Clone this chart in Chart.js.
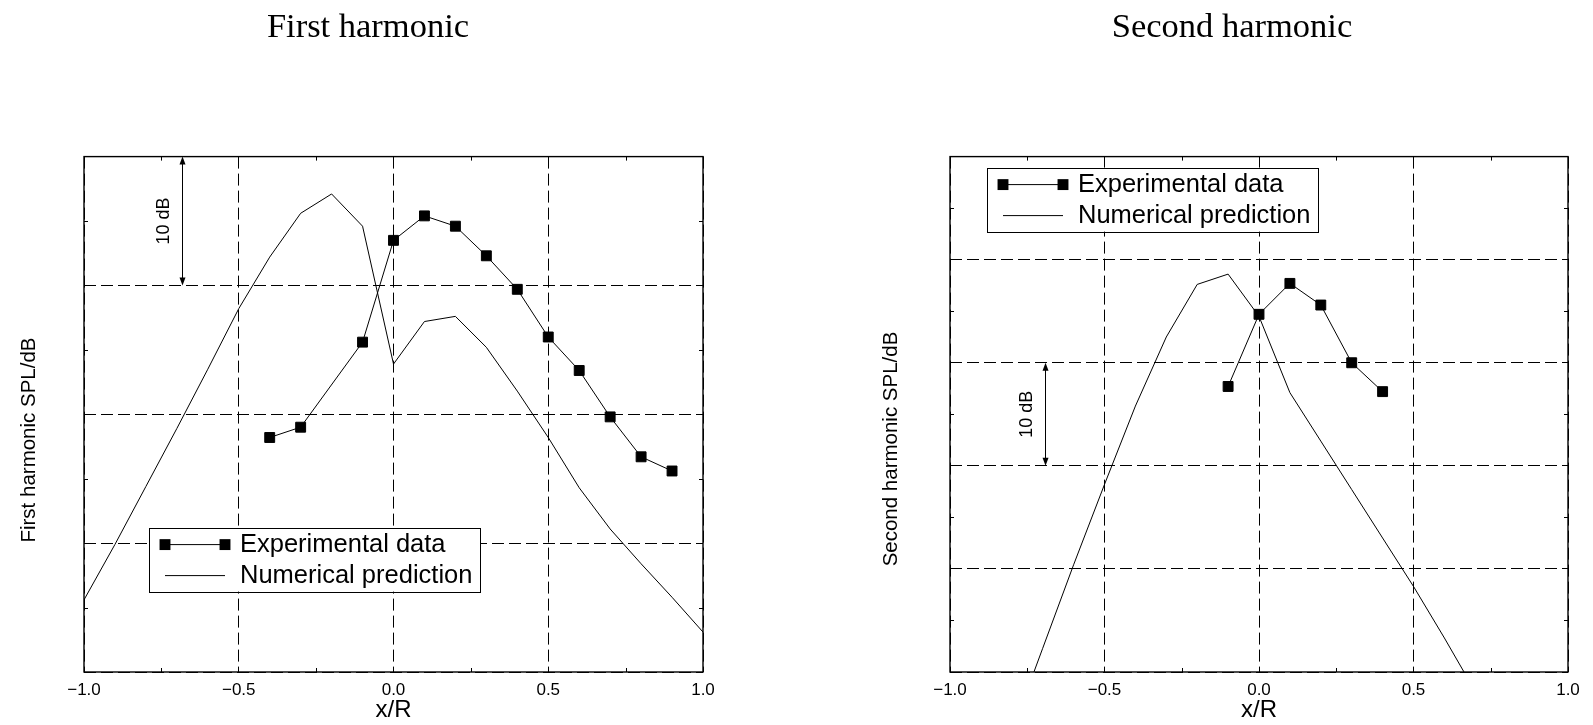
<!DOCTYPE html>
<html><head><meta charset="utf-8">
<script src="https://cdn.jsdelivr.net/npm/chart.js@4.4.1/dist/chart.umd.min.js"></script>
<style>
html,body{margin:0;padding:0;background:#fff;width:1593px;height:725px;overflow:hidden;}
.box{position:absolute;top:0;height:725px;}
#w1{left:0;width:736px;}
#w2{left:860px;width:733px;}
canvas{display:block;}
</style></head><body>
<div id="w1" class="box"><canvas id="c1" width="736" height="725"></canvas></div>
<div id="w2" class="box"><canvas id="c2" width="733" height="725"></canvas></div>
<script>
// ---------- data (first harmonic) ----------
const expX1 = [-0.4, -0.3, -0.1, 0.0, 0.1, 0.2, 0.3, 0.4, 0.5, 0.6, 0.7, 0.8, 0.9];
const expY1 = [18.2, 19.0, 25.6, 33.5, 35.4, 34.6, 32.3, 29.7, 26.0, 23.4, 19.8, 16.7, 15.6];
const numX1 = [-1.0, -0.9, -0.8, -0.7, -0.6, -0.5, -0.4, -0.3, -0.2, -0.1, 0.0, 0.1, 0.2, 0.3, 0.4, 0.5, 0.6, 0.7, 0.8, 0.9, 1.0];
const numY1 = [5.6, 9.9, 14.4, 18.9, 23.5, 28.2, 32.2, 35.6, 37.1, 34.6, 23.9, 27.2, 27.6, 25.2, 21.8, 18.2, 14.3, 11.1, 8.4, 5.8, 3.1];
// ---------- data (second harmonic) ----------
const expX2 = [-0.1, 0.0, 0.1, 0.2, 0.3, 0.4];
const expY2 = [27.7, 34.7, 37.7, 35.6, 30.0, 27.2];
const numX2 = [-0.8, -0.7, -0.6, -0.5, -0.4, -0.3, -0.2, -0.1, 0.0, 0.1, 0.2, 0.3, 0.4, 0.5, 0.6, 0.7];
const numY2 = [-5.8, 2.3, 10.4, 18.2, 25.8, 32.5, 37.6, 38.6, 34.5, 27.1, 22.4, 17.7, 13.0, 8.3, 3.3, -1.9];
// ---------- axes ----------
const xTicks = [-1.0, -0.5, 0.0, 0.5, 1.0];
const minorX = [-0.75, -0.25, 0.25, 0.75];
const minorY1 = [5, 15, 25, 35];
const minorY2 = [5, 15, 25, 35, 45];
const seriesLabels = ['Experimental data', 'Numerical prediction'];

Chart.defaults.font.family = '"Liberation Sans", Arial, sans-serif';
Chart.defaults.color = '#000';

const pts = (xs, ys) => xs.map((x, i) => ({x: x, y: ys[i]}));
const fmt = v => (v < 0 ? '\u2212' : '') + Math.abs(v).toFixed(1);

const decorPlugin = {
  id: 'decor',
  afterDraw(chart, args, o) {
    const {ctx, chartArea: a, scales: {x, y}} = chart;
    ctx.save();
    // legend box
    const L = a.left + o.legend.dx, T = a.top + o.legend.dy;
    ctx.fillStyle = '#fff';
    ctx.fillRect(L, T, o.legend.w, o.legend.h);
    ctx.strokeStyle = '#000'; ctx.lineWidth = 1;
    ctx.strokeRect(Math.round(L) + 0.5, Math.round(T) + 0.5, o.legend.w, o.legend.h);
    chart.data.datasets.forEach((ds, i) => {
      const cy = T + o.legend.row0 + i * o.legend.gap;
      const x0 = L + o.legend.mk0, x1 = L + o.legend.mk1;
      ctx.strokeStyle = ds.borderColor; ctx.lineWidth = ds.borderWidth;
      ctx.beginPath(); ctx.moveTo(x0, cy); ctx.lineTo(x1, cy); ctx.stroke();
      if (ds.pointRadius > 0) {
        const s = 2 * ds.pointRadius * Math.SQRT1_2 + ds.pointBorderWidth;
        ctx.fillStyle = ds.pointBackgroundColor;
        ctx.fillRect(x0 - s / 2, cy - s / 2, s, s);
        ctx.fillRect(x1 - s / 2, cy - s / 2, s, s);
      }
      ctx.fillStyle = '#000';
      ctx.font = o.legend.font;
      ctx.textAlign = 'left'; ctx.textBaseline = 'middle';
      ctx.fillText(ds.label, L + o.legend.textX, cy);
    });
    // minor inward ticks
    ctx.strokeStyle = '#000'; ctx.lineWidth = 1;
    ctx.beginPath();
    for (const v of o.minorX) {
      const px = Math.round(x.getPixelForValue(v)) + 0.5;
      ctx.moveTo(px, a.bottom); ctx.lineTo(px, a.bottom - o.tick);
      ctx.moveTo(px, a.top); ctx.lineTo(px, a.top + o.tick);
    }
    for (const v of o.minorY) {
      const py = Math.round(y.getPixelForValue(v)) + 0.5;
      ctx.moveTo(a.left, py); ctx.lineTo(a.left + o.tick, py);
      ctx.moveTo(a.right, py); ctx.lineTo(a.right - o.tick, py);
    }
    ctx.stroke();
    // frame
    ctx.lineWidth = 1.4;
    ctx.strokeRect(a.left, a.top, a.right - a.left, a.bottom - a.top);
    // 10 dB arrow
    const ax = Math.round(x.getPixelForValue(o.arrow.x)) + 0.5;
    const ya = y.getPixelForValue(o.arrow.to), yb = y.getPixelForValue(o.arrow.from);
    ctx.lineWidth = 1;
    ctx.beginPath(); ctx.moveTo(ax, ya + 6); ctx.lineTo(ax, yb - 6); ctx.stroke();
    ctx.fillStyle = '#000';
    ctx.beginPath(); ctx.moveTo(ax, ya); ctx.lineTo(ax - 3, ya + 8); ctx.lineTo(ax + 3, ya + 8); ctx.closePath(); ctx.fill();
    ctx.beginPath(); ctx.moveTo(ax, yb); ctx.lineTo(ax - 3, yb - 8); ctx.lineTo(ax + 3, yb - 8); ctx.closePath(); ctx.fill();
    ctx.save();
    ctx.translate(ax + o.arrow.textDx, (ya + yb) / 2);
    ctx.rotate(-Math.PI / 2);
    ctx.font = o.arrow.font; ctx.textAlign = 'center'; ctx.textBaseline = 'middle';
    ctx.fillText(o.arrow.text, 0, 0);
    ctx.restore();
    // y axis title
    const yt = chart.options.scales.y.title;
    ctx.save();
    ctx.translate(o.yTitle.x, o.yTitle.y);
    ctx.rotate(-Math.PI / 2);
    ctx.font = o.yTitle.font; ctx.textAlign = 'center'; ctx.textBaseline = 'middle';
    ctx.fillStyle = '#000';
    ctx.fillText(yt.text, 0, 0);
    ctx.restore();
    ctx.restore();
  }
};

function makeChart(id, cfg) {
  return new Chart(document.getElementById(id), {
    type: 'line',
    data: {
      datasets: [
        {label: seriesLabels[0], data: pts(cfg.expX, cfg.expY), borderColor: '#000', borderWidth: 1,
         pointStyle: 'rect', pointRadius: 7, pointBorderWidth: 1, pointBackgroundColor: '#000', pointBorderColor: '#000', tension: 0},
        {label: seriesLabels[1], data: pts(cfg.numX, cfg.numY), borderColor: '#000', borderWidth: 1,
         pointRadius: 0, pointBorderWidth: 0, tension: 0}
      ]
    },
    options: {
      responsive: false, animation: false, events: [],
      layout: {padding: {left: cfg.padL, right: cfg.padR, top: 0, bottom: 2.6}},
      plugins: {
        legend: {display: false}, tooltip: {enabled: false},
        title: {display: true, text: cfg.title, color: '#000',
                font: {family: '"Liberation Serif", "Times New Roman", serif', size: 34.5, weight: 'normal', lineHeight: 1.2},
                padding: {top: 7, bottom: 108.2}},
        decor: {
          minorX: minorX, minorY: cfg.minorY, tick: 4,
          legend: {dx: cfg.legDx, dy: cfg.legDy, w: 331, h: 64, row0: 17, gap: 31, mk0: 16, mk1: 76, textX: 91,
                   font: '25.5px "Liberation Sans", Arial, sans-serif'},
          arrow: {x: cfg.arrowX, from: cfg.arrowFrom, to: cfg.arrowTo, text: '10 dB', textDx: -18,
                  font: '18px "Liberation Sans", Arial, sans-serif'},
          yTitle: {x: cfg.ytX, y: cfg.ytY, font: '20.5px "Liberation Sans", Arial, sans-serif'}
        }
      },
      scales: {
        x: {type: 'linear', min: -1, max: 1,
            afterBuildTicks: s => { s.ticks = xTicks.map(v => ({value: v})); },
            afterFit: s => { s.height = 50.4; },
            ticks: {callback: v => fmt(v), font: {size: 17}, padding: 7.8, maxRotation: 0, autoSkip: false, color: '#000'},
            grid: {color: '#000', lineWidth: 1, drawTicks: false},
            border: {display: false, dash: [12, 5]},
            title: {display: true, text: 'x/R', font: {size: 24, lineHeight: 1.0}, padding: {top: 0, bottom: 0}, color: '#000'}},
        y: {type: 'linear', min: 0, max: cfg.yMax,
            ticks: {display: false, stepSize: 10},
            afterFit: s => { s.width = cfg.yW; },
            grid: {color: '#000', lineWidth: 1, drawTicks: false},
            border: {display: false, dash: [12, 5]},
            title: {display: false, text: cfg.yTitle}}
      }
    },
    plugins: [decorPlugin]
  });
}

makeChart('c1', {
  title: 'First harmonic', yTitle: 'First harmonic SPL/dB',
  expX: expX1, expY: expY1, numX: numX1, numY: numY1, yMax: 40, minorY: minorY1,
  padL: 33, padR: 33, yW: 51, legDx: 65, legDy: 371,
  arrowX: -0.682, arrowFrom: 30, arrowTo: 40, ytX: 29, ytY: 440
});
makeChart('c2', {
  title: 'Second harmonic', yTitle: 'Second harmonic SPL/dB',
  expX: expX2, expY: expY2, numX: numX2, numY: numY2, yMax: 50, minorY: minorY2,
  padL: 36, padR: 25, yW: 54, legDx: 37, legDy: 11,
  arrowX: -0.694, arrowFrom: 20, arrowTo: 30, ytX: 31, ytY: 449
});
</script>
</body></html>
